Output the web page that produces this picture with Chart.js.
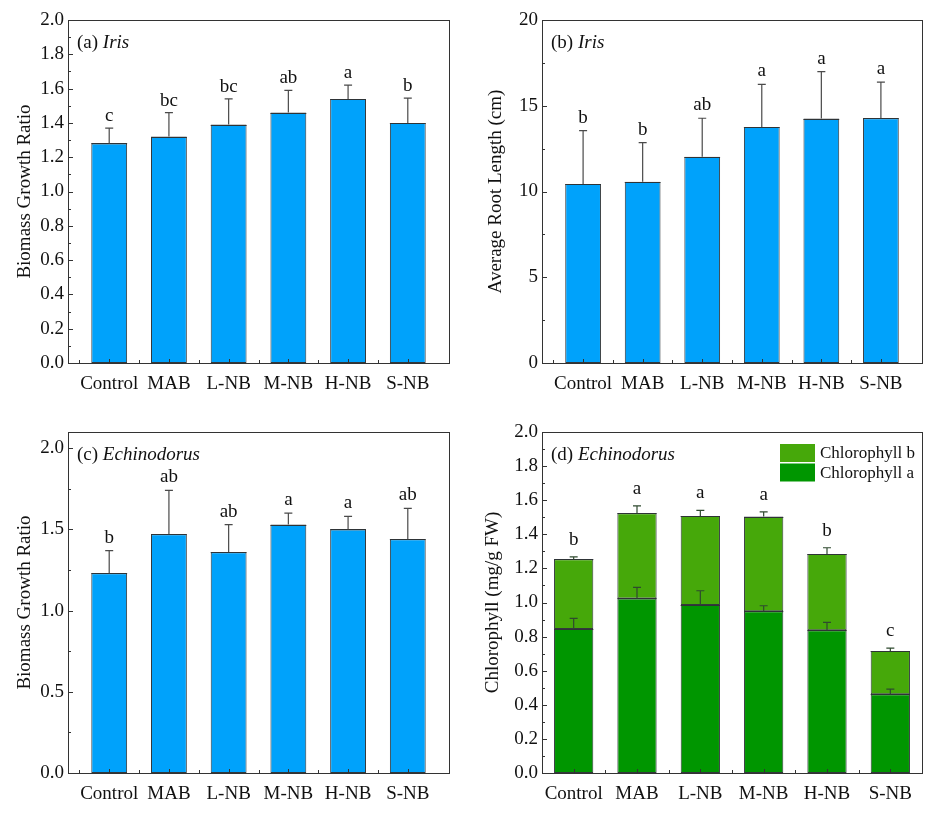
<!DOCTYPE html>
<html>
<head>
<meta charset="utf-8">
<script src="https://cdn.jsdelivr.net/npm/chart.js@4.4.1/dist/chart.umd.min.js"></script>
<style>
body { margin: 0; background: #fff; width: 942px; height: 816px; overflow: hidden; position: relative; }
.panel { position: absolute; }
</style>
</head>
<body>
<div class="panel" style="left:0;top:0"><canvas id="chartA" width="471" height="410"></canvas></div>
<div class="panel" style="left:471px;top:0"><canvas id="chartB" width="471" height="410"></canvas></div>
<div class="panel" style="left:0;top:410px"><canvas id="chartC" width="471" height="406"></canvas></div>
<div class="panel" style="left:471px;top:410px"><canvas id="chartD" width="471" height="406"></canvas></div>
<script>
const FONT = "'Liberation Serif', 'Times New Roman', serif";

const categories = ["Control", "MAB", "L-NB", "M-NB", "H-NB", "S-NB"];

// (a) Iris biomass
const irisBiomass = [1.28, 1.32, 1.39, 1.46, 1.54, 1.40];
const irisBiomassSd = [0.09, 0.14, 0.15, 0.13, 0.08, 0.145];
const irisBiomassSig = ["c", "bc", "bc", "ab", "a", "b"];
const irisBiomassTicks = [0, 0.2, 0.4, 0.6, 0.8, 1.0, 1.2, 1.4, 1.6, 1.8, 2.0];

// (b) Iris root length
const irisRoot = [10.44, 10.57, 12.03, 13.76, 14.25, 14.27];
const irisRootSd = [3.11, 2.28, 2.24, 2.49, 2.74, 2.11];
const irisRootSig = ["b", "b", "ab", "a", "a", "a"];
const irisRootTicks = [0, 5, 10, 15, 20];

// (c) Echinodorus biomass
const echBiomass = [1.23, 1.47, 1.36, 1.53, 1.50, 1.44];
const echBiomassSd = [0.14, 0.27, 0.17, 0.07, 0.08, 0.19];
const echBiomassSig = ["b", "ab", "ab", "a", "a", "ab"];
const echBiomassTicks = [0, 0.5, 1.0, 1.5, 2.0];

// (d) Echinodorus chlorophyll
const chlA = [0.845, 1.024, 0.985, 0.948, 0.837, 0.462];
const chlASd = [0.062, 0.065, 0.084, 0.033, 0.047, 0.030];
const chlB = [0.408, 0.500, 0.523, 0.556, 0.447, 0.254];
const chlBSd = [0.015, 0.043, 0.032, 0.028, 0.037, 0.016];
const chlSig = ["b", "a", "a", "a", "b", "c"];
const chlTicks = [0, 0.2, 0.4, 0.6, 0.8, 1.0, 1.2, 1.4, 1.6, 1.8, 2.0];

const BLUE = "#00a2fb";
const GREEN_A = "#009600";
const GREEN_B = "#46a80a";

// frame, inner ticks, error bars, letters, panel title and legend
const panelDeco = {
    id: "panelDeco",
    afterDatasetsDraw(chart, args, opts) {
        const { ctx, chartArea: area } = chart;
        const x = chart.scales.x, y = chart.scales.y;
        ctx.save();

        // segment boundaries of stacked bars
        const cum = categories.map(() => 0);
        let lastSd = [];
        chart.data.datasets.forEach((ds, k) => {
            const meta = chart.getDatasetMeta(k);
            ds.data.forEach((pt, i) => {
                cum[i] += pt.y;
                const bar = meta.data[i];
                const top = Math.round(y.getPixelForValue(cum[i])) + 0.5;
                ctx.strokeStyle = "#2e3336";
                ctx.lineWidth = 1;
                ctx.beginPath();
                ctx.moveTo(bar.x - bar.width / 2, top);
                ctx.lineTo(bar.x + bar.width / 2, top);
                ctx.stroke();
            });
        });

        // error bars
        cum.fill(0);
        chart.data.datasets.forEach((ds, k) => {
            const meta = chart.getDatasetMeta(k);
            ds.data.forEach((pt, i) => {
                cum[i] += pt.y;
                const px = meta.data[i].x;
                const top = y.getPixelForValue(cum[i]);
                const end = y.getPixelForValue(cum[i] + ds.sd[i]);
                ctx.strokeStyle = opts.errColor;
                ctx.lineWidth = 1.2;
                ctx.beginPath();
                ctx.moveTo(px, top);
                ctx.lineTo(px, end);
                ctx.moveTo(px - 4, end);
                ctx.lineTo(px + 4, end);
                ctx.stroke();
            });
            lastSd = ds.sd;
        });

        // significance letters
        ctx.fillStyle = "#111";
        ctx.font = "19px " + FONT;
        ctx.textAlign = "center";
        ctx.textBaseline = "alphabetic";
        opts.letters.forEach((s, i) => {
            const py = y.getPixelForValue(cum[i] + lastSd[i]) - opts.letterGap;
            ctx.fillText(s, x.getPixelForValue(i), py);
        });

        // frame
        ctx.strokeStyle = "#333";
        ctx.lineWidth = 1;
        ctx.strokeRect(Math.round(area.left) + 0.5, Math.round(area.top) + 0.5,
            Math.round(area.width), Math.round(area.height));

        // y ticks inside
        ctx.beginPath();
        y.ticks.forEach(t => {
            const py = Math.round(y.getPixelForValue(t.value)) + 0.5;
            ctx.moveTo(area.left, py);
            ctx.lineTo(area.left + 5, py);
        });
        for (let k = 0; ; k++) {
            const v = y.min + k * opts.minorStep;
            if (v > y.max + 1e-9) break;
            const py = Math.round(y.getPixelForValue(v)) + 0.5;
            ctx.moveTo(area.left, py);
            ctx.lineTo(area.left + 3, py);
        }
        // x ticks inside
        categories.forEach((c, i) => {
            const px = Math.round(x.getPixelForValue(i)) + 0.5;
            ctx.moveTo(px, area.bottom);
            ctx.lineTo(px, area.bottom - 4);
            const pm = Math.round(x.getPixelForValue(i - 0.5)) + 0.5;
            ctx.moveTo(pm, area.bottom);
            ctx.lineTo(pm, area.bottom - 3);
        });
        ctx.stroke();

        // panel title
        ctx.textAlign = "left";
        ctx.font = "19px " + FONT;
        const tx = area.left + 9, ty = area.top + 28;
        ctx.fillText(opts.title[0], tx, ty);
        const w = ctx.measureText(opts.title[0]).width;
        ctx.font = "italic 19px " + FONT;
        ctx.fillText(opts.title[1], tx + w, ty);

        // legend inside plot (top series first)
        if (opts.legend) {
            const bx = area.right - 142;
            const dsList = chart.data.datasets.slice().reverse();
            dsList.forEach((ds, k) => {
                const by = area.top + 12 + k * 19.5;
                ctx.fillStyle = ds.backgroundColor;
                ctx.fillRect(bx, by, 35, 18);
                ctx.fillStyle = "#111";
                ctx.font = "17px " + FONT;
                ctx.fillText(ds.label, bx + 40, by + 14);
            });
        }
        ctx.restore();
    }
};

function makePanel(id, cfg) {
    const canvas = document.getElementById(id);
    const W = canvas.width, H = canvas.height;
    return new Chart(canvas, {
        type: "bar",
        data: {
            datasets: cfg.series.map(s => ({
                label: s.label,
                data: s.values.map((v, i) => ({ x: i, y: v })),
                sd: s.sd,
                backgroundColor: s.color,
                borderColor: "#33383c",
                borderWidth: 1,
                borderSkipped: false,
                barPercentage: 1,
                categoryPercentage: cfg.barFrac
            }))
        },
        plugins: [panelDeco],
        options: {
            responsive: false,
            animation: false,
            layout: { padding: { left: 0, top: cfg.plotTop, right: W - cfg.plotRight, bottom: 0 } },
            plugins: {
                legend: { display: false },
                tooltip: { enabled: false },
                panelDeco: {
                    title: cfg.title,
                    letters: cfg.letters,
                    letterGap: cfg.letterGap,
                    minorStep: cfg.minorStep,
                    errColor: cfg.errColor || "#4a4a4a",
                    legend: cfg.legend || false
                }
            },
            scales: {
                x: {
                    type: "linear",
                    stacked: !!cfg.stacked,
                    min: cfg.xMin,
                    max: cfg.xMax,
                    offset: false,
                    grid: { display: false, drawTicks: false },
                    border: { display: false },
                    afterBuildTicks: s => { s.ticks = categories.map((c, i) => ({ value: i })); },
                    afterFit: s => { s.height = H - cfg.plotBottom; },
                    ticks: {
                        autoSkip: false,
                        maxRotation: 0,
                        padding: 10,
                        color: "#111",
                        font: { family: FONT, size: 19 },
                        callback: v => categories[v]
                    }
                },
                y: {
                    stacked: !!cfg.stacked,
                    min: cfg.yMin,
                    max: cfg.yMax,
                    grid: { display: false, drawTicks: false },
                    border: { display: false },
                    afterBuildTicks: s => { s.ticks = cfg.yTicks.map(v => ({ value: v })); },
                    afterFit: s => { s.width = cfg.plotLeft; },
                    ticks: {
                        padding: 4,
                        color: "#111",
                        font: { family: FONT, size: 19 },
                        callback: v => v.toFixed(cfg.decimals)
                    },
                    title: {
                        display: true,
                        text: cfg.yTitle,
                        color: "#111",
                        font: { family: FONT, size: 19 },
                        padding: { top: cfg.titlePad, bottom: 0 }
                    }
                }
            }
        }
    });
}

makePanel("chartA", {
    series: [{ label: "Biomass Growth Ratio", values: irisBiomass, sd: irisBiomassSd, color: BLUE }],
    letters: irisBiomassSig, letterGap: 7,
    title: ["(a) ", "Iris"],
    yTitle: "Biomass Growth Ratio",
    yMin: 0, yMax: 2.0, yTicks: irisBiomassTicks, decimals: 1, minorStep: 0.1,
    xMin: -0.69, xMax: 5.69, barFrac: 0.6,
    plotLeft: 68, plotRight: 449, plotTop: 20, plotBottom: 363, titlePad: 14
});

makePanel("chartB", {
    series: [{ label: "Average Root Length (cm)", values: irisRoot, sd: irisRootSd, color: BLUE }],
    letters: irisRootSig, letterGap: 8,
    title: ["(b) ", "Iris"],
    yTitle: "Average Root Length (cm)",
    yMin: 0, yMax: 20, yTicks: irisRootTicks, decimals: 0, minorStep: 2.5,
    xMin: -0.69, xMax: 5.69, barFrac: 0.6,
    plotLeft: 71, plotRight: 451, plotTop: 20, plotBottom: 363, titlePad: 14
});

makePanel("chartC", {
    series: [{ label: "Biomass Growth Ratio", values: echBiomass, sd: echBiomassSd, color: BLUE }],
    letters: echBiomassSig, letterGap: 8,
    title: ["(c) ", "Echinodorus"],
    yTitle: "Biomass Growth Ratio",
    yMin: 0, yMax: 2.1, yTicks: echBiomassTicks, decimals: 1, minorStep: 0.25,
    xMin: -0.69, xMax: 5.69, barFrac: 0.6,
    plotLeft: 68, plotRight: 449, plotTop: 22, plotBottom: 363, titlePad: 14
});

makePanel("chartD", {
    series: [
        { label: "Chlorophyll a", values: chlA, sd: chlASd, color: GREEN_A },
        { label: "Chlorophyll b", values: chlB, sd: chlBSd, color: GREEN_B }
    ],
    stacked: true,
    letters: chlSig, letterGap: 12,
    title: ["(d) ", "Echinodorus"],
    yTitle: "Chlorophyll (mg/g FW)",
    yMin: 0, yMax: 2.0, yTicks: chlTicks, decimals: 1, minorStep: 0.1,
    xMin: -0.5, xMax: 5.5, barFrac: 0.62,
    plotLeft: 71, plotRight: 451, plotTop: 22, plotBottom: 363, titlePad: 11,
    errColor: "#2f4a2f", legend: true
});
</script>
</body>
</html>
